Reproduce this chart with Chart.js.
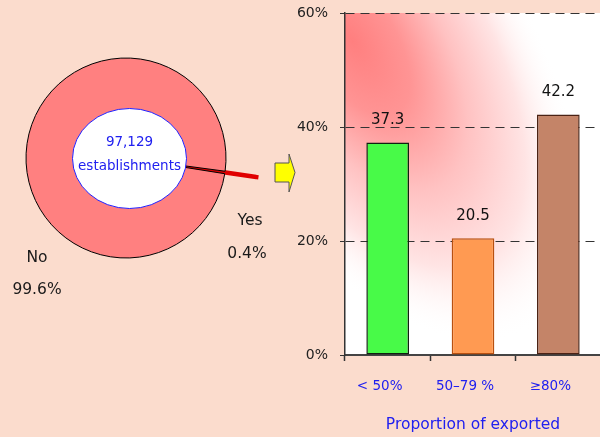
<!DOCTYPE html>
<html>
<head>
<meta charset="utf-8">
<script src="https://cdn.jsdelivr.net/npm/chart.js@4"></script>
<style>
  html, body { margin: 0; padding: 0; }
  body { width: 600px; height: 437px; background: #FBDCCD; position: relative; overflow: hidden; font-family: "DejaVu Sans", sans-serif; }
  #pieBox { position: absolute; left: 0; top: 0; width: 300px; height: 316px; }
  #barBox { position: absolute; left: 280px; top: 0; width: 325px; height: 437px; }
  #arrow { position: absolute; left: 0; top: 0; }
</style>
</head>
<body>
<div id="pieBox"><canvas id="pie" width="300" height="316"></canvas></div>
<svg id="arrow" width="600" height="437">
  <polygon points="275,163 289,163 289,154 295,172.5 289,192 289,182 275,182" fill="#FFFF00" stroke="#555" stroke-width="1"/>
</svg>
<div id="barBox"><canvas id="bar" width="325" height="437"></canvas></div>
<script>
// datos del grafico
const pieLabels = ["Yes", "No"];
const pieValues = [0.4, 99.6];
const totalText = "97,129";
const totalLabel = "establishments";

const barLabels = ["< 50%", "50–79 %", "≥80%"];
const barValues = [37.3, 20.5, 42.2];
const yTicks = [0, 20, 40, 60];
const xTitle = "Proportion of exported";

const FONT = "DejaVu Sans";

// elipse blanca del centro + etiquetas
const pieDeco = {
  id: "pieDeco",
  afterDatasetsDraw(chart) {
    const ctx = chart.ctx;
    const arc = chart.getDatasetMeta(0).data[1];
    const cx = arc.x, cy = arc.y;
    ctx.save();
    ctx.beginPath();
    ctx.ellipse(cx + 3.5, cy + 0.5, 57, 50, 0, 0, Math.PI * 2);
    ctx.fillStyle = "#FFFFFF";
    ctx.fill();
    ctx.strokeStyle = "#2020FF";
    ctx.lineWidth = 1;
    ctx.stroke();

    ctx.fillStyle = "#2020F0";
    ctx.font = "13.5px " + FONT;
    ctx.textAlign = "center";
    ctx.textBaseline = "middle";
    ctx.fillText(totalText, cx + 3.5, cy - 16);
    ctx.fillText(totalLabel, cx + 3.5, cy + 8);

    ctx.fillStyle = "#1a1a1a";
    ctx.font = "15.5px " + FONT;
    ctx.fillText(pieLabels[0], cx + 124, cy + 63);
    ctx.fillText(pieValues[0].toFixed(1) + "%", cx + 121, cy + 96);
    ctx.fillText(pieLabels[1], cx - 89, cy + 100);
    ctx.fillText(pieValues[1].toFixed(1) + "%", cx - 89, cy + 132);
    ctx.restore();
  }
};

new Chart(document.getElementById("pie"), {
  type: "pie",
  data: {
    labels: pieLabels,
    datasets: [{
      data: pieValues,
      backgroundColor: ["#FF0000", "#FF8080"],
      borderColor: ["#E00000", "#000000"],
      borderWidth: [4.5, 1],
      borderJoinStyle: "miter",
      offset: [64, 0],
      clip: false
    }]
  },
  options: {
    responsive: false,
    animation: false,
    radius: 100,
    rotation: 97.6,
    layout: { padding: { right: 48 } },
    events: [],
    plugins: { legend: { display: false }, tooltip: { enabled: false } }
  },
  plugins: [pieDeco]
});

// fondo degradado del area del grafico
const plotBg = {
  id: "plotBg",
  beforeDraw(chart) {
    const { ctx, chartArea: a } = chart;
    ctx.save();
    ctx.beginPath();
    ctx.rect(a.left, a.top, a.right - a.left, a.bottom - a.top);
    ctx.clip();
    ctx.fillStyle = "#FFFFFF";
    ctx.fillRect(a.left, a.top, a.right - a.left, a.bottom - a.top);
    ctx.translate(a.left + 7, a.top + 27);
    ctx.rotate(58 * Math.PI / 180);
    ctx.scale(340, 170);
    const g = ctx.createRadialGradient(0, 0, 0, 0, 0, 1);
    g.addColorStop(0, "#FF7F7F");
    g.addColorStop(0.25, "#FF9494");
    g.addColorStop(0.5, "#FFC2C2");
    g.addColorStop(0.75, "#FFE4E4");
    g.addColorStop(1, "rgba(255,255,255,0)");
    ctx.fillStyle = g;
    ctx.fillRect(-5, -5, 10, 10);
    ctx.restore();
  }
};

// valores encima de las barras
const barValuesPlugin = {
  id: "barValues",
  afterDatasetsDraw(chart) {
    const ctx = chart.ctx;
    ctx.save();
    ctx.fillStyle = "#111111";
    ctx.font = "15px " + FONT;
    ctx.textAlign = "center";
    ctx.textBaseline = "middle";
    chart.getDatasetMeta(0).data.forEach((bar, i) => {
      ctx.fillText(barValues[i].toFixed(1), bar.x, bar.y - 22);
    });
    ctx.restore();
  }
};

new Chart(document.getElementById("bar"), {
  type: "bar",
  data: {
    labels: barLabels,
    datasets: [{
      data: barValues,
      backgroundColor: ["#48FA48", "#FF9A52", "#C48468"],
      borderColor: ["#102010", "#B85010", "#4a2214"],
      borderWidth: 1.5,
      borderSkipped: false,
      barPercentage: 0.5,
      categoryPercentage: 1.0
    }]
  },
  options: {
    responsive: false,
    animation: false,
    events: [],
    layout: { padding: { top: 13, right: 4, left: 0, bottom: 0 } },
    plugins: { legend: { display: false }, tooltip: { enabled: false } },
    scales: {
      x: {
        afterFit: s => { s.height = 82; },
        grid: { offset: true, drawOnChartArea: false, drawTicks: true, tickLength: 6, tickColor: "#333", tickWidth: 1.5 },
        border: { color: "#444", width: 2 },
        ticks: { color: "#2020F0", font: { family: FONT, size: 13.5 }, padding: 17, labelOffset: -8, maxRotation: 0 },
        title: { display: true, text: xTitle, color: "#2020F0", font: { family: FONT, size: 15.5 }, padding: { top: 0, bottom: 3 } }
      },
      y: {
        min: yTicks[0],
        max: yTicks[yTicks.length - 1],
        afterFit: s => { s.width = 65; s.paddingTop = 0; s.paddingBottom = 0; },
        afterBuildTicks: s => { s.ticks = yTicks.map(v => ({ value: v })); },
        grid: {
          color: c => (c.tick && c.tick.value === 0) ? "rgba(0,0,0,0)" : "#333",
          lineWidth: 1,
          tickLength: 5,
          tickColor: "#333"
        },
        border: { color: "#333", width: 1.5, dash: [9, 6] },
        ticks: { color: "#222", font: { family: FONT, size: 14 }, padding: 12, callback: v => v + "%" }
      }
    }
  },
  plugins: [plotBg, barValuesPlugin]
});
</script>
</body>
</html>
